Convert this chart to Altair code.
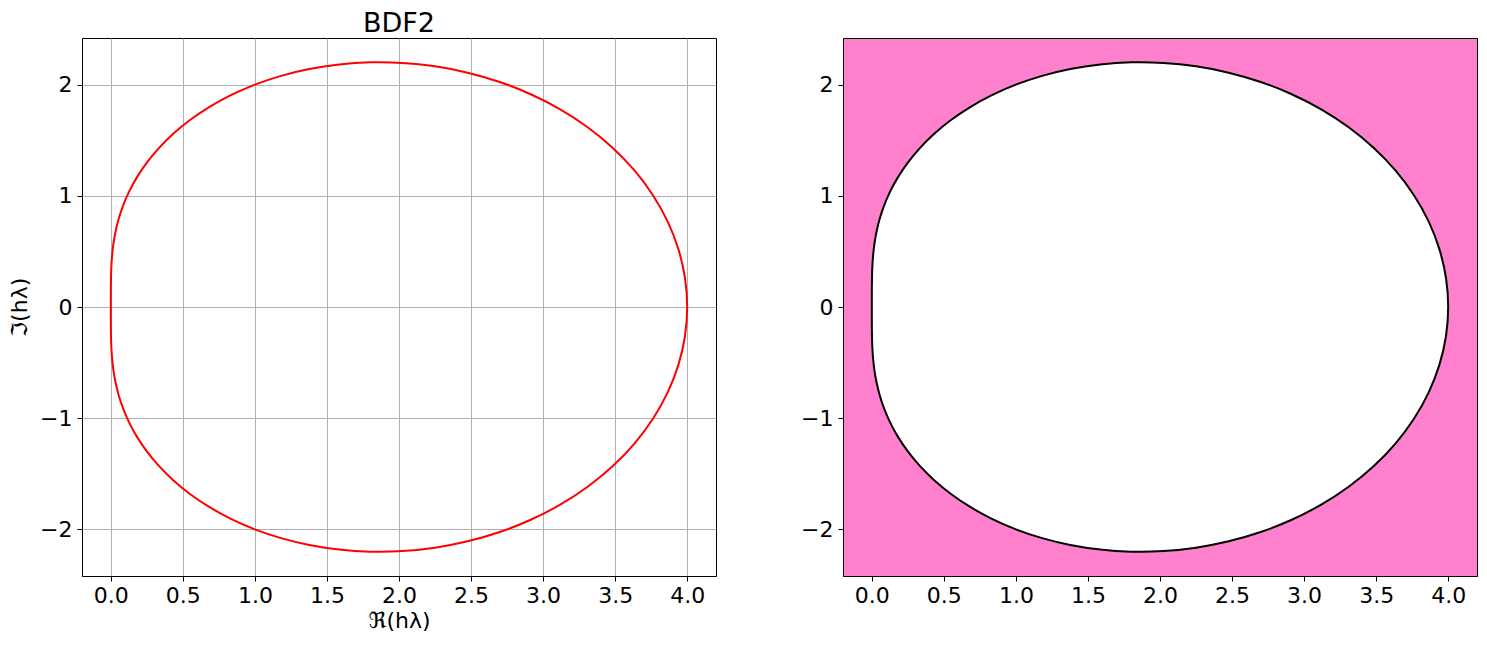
import altair as alt
import pandas as pd

# Stability boundary of BDF2 (upper half), theta = 0..180 deg step 5
RE_UPPER = [0.0, 0.0000, 0.0002, 0.0012, 0.0036, 0.0088, 0.0179, 0.0327, 0.0547, 0.0858,
            0.1276, 0.1818, 0.25, 0.3334, 0.4330, 0.5493, 0.6829, 0.8333, 1.0, 1.1819,
            1.3775, 1.5846, 1.8010, 2.0239, 2.25, 2.4762, 2.6988, 2.9142, 3.1189, 3.3093,
            3.4821, 3.6340, 3.7624, 3.8649, 3.9394, 3.9848, 4.0]
IM_UPPER = [0.0, 0.0875, 0.1763, 0.2676, 0.3626, 0.4622, 0.5670, 0.6773, 0.7932, 0.9142,
            1.0397, 1.1685, 1.2990, 1.4296, 1.5580, 1.6819, 1.7986, 1.9056, 2.0, 2.0792,
            2.1406, 2.1819, 2.2008, 2.1956, 2.1651, 2.1082, 2.0245, 1.9142, 1.7780, 1.6170,
            1.4330, 1.2283, 1.0054, 0.7676, 0.5183, 0.2611, 0.0]
# lower half (mirror points, same order as the upper half)
IM_LOWER = [-0.0, -0.0875, -0.1763, -0.2676, -0.3626, -0.4622, -0.5670, -0.6773, -0.7932, -0.9142,
            -1.0397, -1.1685, -1.2990, -1.4296, -1.5580, -1.6819, -1.7986, -1.9056, -2.0, -2.0792,
            -2.1406, -2.1819, -2.2008, -2.1956, -2.1651, -2.1082, -2.0245, -1.9142, -1.7780, -1.6170,
            -1.4330, -1.2283, -1.0054, -0.7676, -0.5183, -0.2611, -0.0]

X_TICKS = [0.0, 0.5, 1.0, 1.5, 2.0, 2.5, 3.0, 3.5, 4.0]
Y_TICKS = [-2, -1, 0, 1, 2]
X_DOMAIN = [-0.2, 4.2]
Y_DOMAIN = [-2.42, 2.42]

TITLE = "BDF2"
X_TITLE = "ℜ(hλ)"
Y_TITLE = "ℑ(hλ)"
PINK = "#ff80cc"

# closed curve: upper half then lower half traversed backwards
curve = pd.DataFrame({
    "re": RE_UPPER + RE_UPPER[::-1][1:],
    "im": IM_UPPER + IM_LOWER[::-1][1:],
})
curve["order"] = range(len(curve))
region = pd.DataFrame({"re": RE_UPPER, "up": IM_UPPER, "lo": IM_LOWER})

FONT = "DejaVu Sans"
FS = 22

def xaxis(title, grid):
    return alt.Axis(values=X_TICKS, format=".1f", title=title, grid=grid,
                    gridColor="#b0b0b0", gridWidth=1, labelFontSize=FS, titleFontSize=FS,
                    labelFont=FONT, titleFont=FONT, labelColor="black", titleColor="black",
                    titleFontWeight="normal", tickColor="black", domainColor="black",
                    tickSize=5, labelPadding=4, titlePadding=4, labelFlush=False)

def yaxis(title, grid):
    return alt.Axis(values=Y_TICKS, format="d", title=title, grid=grid,
                    gridColor="#b0b0b0", gridWidth=1, labelFontSize=FS, titleFontSize=FS,
                    labelFont=FONT, titleFont=FONT, labelColor="black", titleColor="black",
                    titleFontWeight="normal", tickColor="black", domainColor="black",
                    tickSize=5, labelPadding=5, titlePadding=8, labelFlush=False)

W, H = 634, 538

left = alt.Chart(curve).mark_line(color="red", strokeWidth=2, clip=True, interpolate="catmull-rom").encode(
    x=alt.X("re:Q", scale=alt.Scale(domain=X_DOMAIN, nice=False, zero=False), axis=xaxis(X_TITLE, True)),
    y=alt.Y("im:Q", scale=alt.Scale(domain=Y_DOMAIN, nice=False, zero=False), axis=yaxis(Y_TITLE, True)),
    order="order:Q",
).properties(width=W, height=H,
             title=alt.TitleParams(TITLE, fontSize=27, font=FONT, fontWeight="normal", color="black", offset=0))

fill = alt.Chart(region).mark_area(color="white", opacity=1, clip=True, interpolate="catmull-rom").encode(
    x=alt.X("re:Q", scale=alt.Scale(domain=X_DOMAIN, nice=False, zero=False), axis=xaxis(None, False)),
    y=alt.Y("up:Q", scale=alt.Scale(domain=Y_DOMAIN, nice=False, zero=False), axis=yaxis(None, False)),
    y2="lo:Q",
)
outline = alt.Chart(curve).mark_line(color="black", strokeWidth=2, clip=True, interpolate="catmull-rom").encode(
    x="re:Q", y="im:Q", order="order:Q",
)
right = alt.layer(fill, outline).properties(
    width=W, height=H,
    view=alt.ViewBackground(fill=PINK, stroke="black", strokeWidth=1),
    title=alt.TitleParams(" ", fontSize=27, font=FONT, offset=0),
)

chart = alt.hconcat(left, right, spacing=83).properties(
    padding={"left": 0, "top": 1, "right": 0, "bottom": 5}
).configure_view(stroke="black", strokeWidth=1)

chart.save("out.html", embed_options={"renderer": "svg", "actions": False})
